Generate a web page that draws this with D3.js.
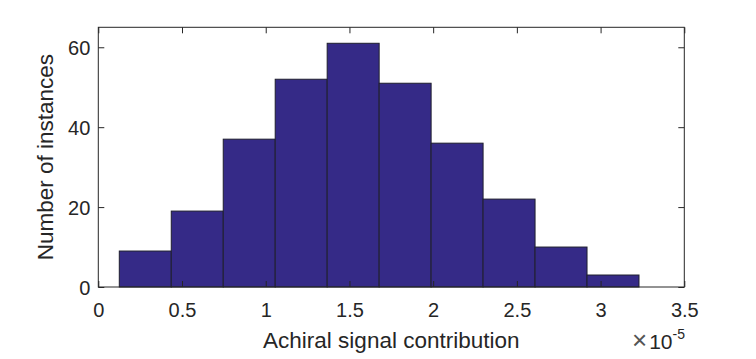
<!DOCTYPE html>
<html>
<head>
<meta charset="utf-8">
<script src="https://cdn.jsdelivr.net/npm/d3@7"></script>
<style>
  html, body { margin: 0; padding: 0; background: #fff; }
  svg text { font-family: "Liberation Sans", Arial, Helvetica, sans-serif; fill: #262626; }
</style>
</head>
<body>
<svg id="chart" width="756" height="359"></svg>
<script>
// Histogram bin edges (in units of 1e-5) and counts
const binStart = 0.1254;
const binWidth = 0.3104;
const counts = [9, 19, 37, 52, 61, 51, 36, 22, 10, 3];
const xTicks = [0, 0.5, 1, 1.5, 2, 2.5, 3, 3.5];
const xTickLabels = ["0", "0.5", "1", "1.5", "2", "2.5", "3", "3.5"];
const yTicks = [0, 20, 40, 60];
const xDomain = [0, 3.5];
const yDomain = [0, 65];

const bins = counts.map((c, i) => ({
  x0: binStart + i * binWidth,
  x1: binStart + (i + 1) * binWidth,
  count: c
}));

const svg = d3.select("#chart");
const m = { left: 98.3, right: 684.3, top: 27.3, bottom: 287 };

const x = d3.scaleLinear().domain(xDomain).range([m.left, m.right]);
const y = d3.scaleLinear().domain(yDomain).range([m.bottom, m.top]);
const axisColor = "#262626";
const tickFont = 20;

// Bars
svg.append("g").selectAll("rect").data(bins).join("rect")
  .attr("x", d => x(d.x0))
  .attr("y", d => y(d.count))
  .attr("width", d => x(d.x1) - x(d.x0))
  .attr("height", d => y(0) - y(d.count))
  .attr("fill", "#352a87")
  .attr("stroke", "#1f1f2e")
  .attr("stroke-width", 1);

const tickLen = 6;
// Bottom axis
const gx = svg.append("g").attr("transform", `translate(0,${m.bottom})`)
  .call(d3.axisBottom(x).tickValues(xTicks).tickFormat((d, i) => xTickLabels[i]).tickSizeInner(-tickLen).tickSizeOuter(0).tickPadding(0));
// Top axis
const gxt = svg.append("g").attr("transform", `translate(0,${m.top})`)
  .call(d3.axisTop(x).tickValues(xTicks).tickFormat("").tickSizeInner(-tickLen).tickSizeOuter(0));
// Left axis
const gy = svg.append("g").attr("transform", `translate(${m.left},0)`)
  .call(d3.axisLeft(y).tickValues(yTicks).tickSizeInner(-tickLen).tickSizeOuter(0).tickPadding(0));
// Right axis
const gyr = svg.append("g").attr("transform", `translate(${m.right},0)`)
  .call(d3.axisRight(y).tickValues(yTicks).tickFormat("").tickSizeInner(-tickLen).tickSizeOuter(0));

[gx, gxt, gy, gyr].forEach(g => {
  g.select(".domain").remove();
  g.selectAll("line").attr("stroke", axisColor);
  g.selectAll("text").attr("font-size", tickFont).attr("fill", axisColor)
    .style("font-family", '"Liberation Sans", Arial, sans-serif');
});
// Position tick labels explicitly (baseline below axis / right edge left of axis)
gx.selectAll("text").attr("y", 317 - m.bottom).attr("dy", null);
gy.selectAll("text").attr("x", -8).attr("dy", "0.36em");

// Box
svg.append("rect")
  .attr("x", m.left).attr("y", m.top)
  .attr("width", m.right - m.left).attr("height", m.bottom - m.top)
  .attr("fill", "none").attr("stroke", axisColor).attr("stroke-width", 1);

// Axis labels
svg.append("text")
  .attr("x", (m.left + m.right) / 2).attr("y", 348)
  .attr("text-anchor", "middle").attr("font-size", 22.5)
  .text("Achiral signal contribution");

svg.append("text")
  .attr("transform", `translate(53,${(m.top + m.bottom) / 2}) rotate(-90)`)
  .attr("text-anchor", "middle").attr("font-size", 22.5)
  .text("Number of instances");

// Exponent label
const ex = svg.append("text").attr("x", 685).attr("y", 349).attr("text-anchor", "end").attr("font-size", 21);
ex.append("tspan").attr("font-size", 26).attr("font-weight", 300).attr("fill", "#555").text("\u00d7");
ex.append("tspan").attr("dx", 2).text("10");
ex.append("tspan").attr("dy", -10).attr("font-size", 14).text("-5");
</script>
</body>
</html>
